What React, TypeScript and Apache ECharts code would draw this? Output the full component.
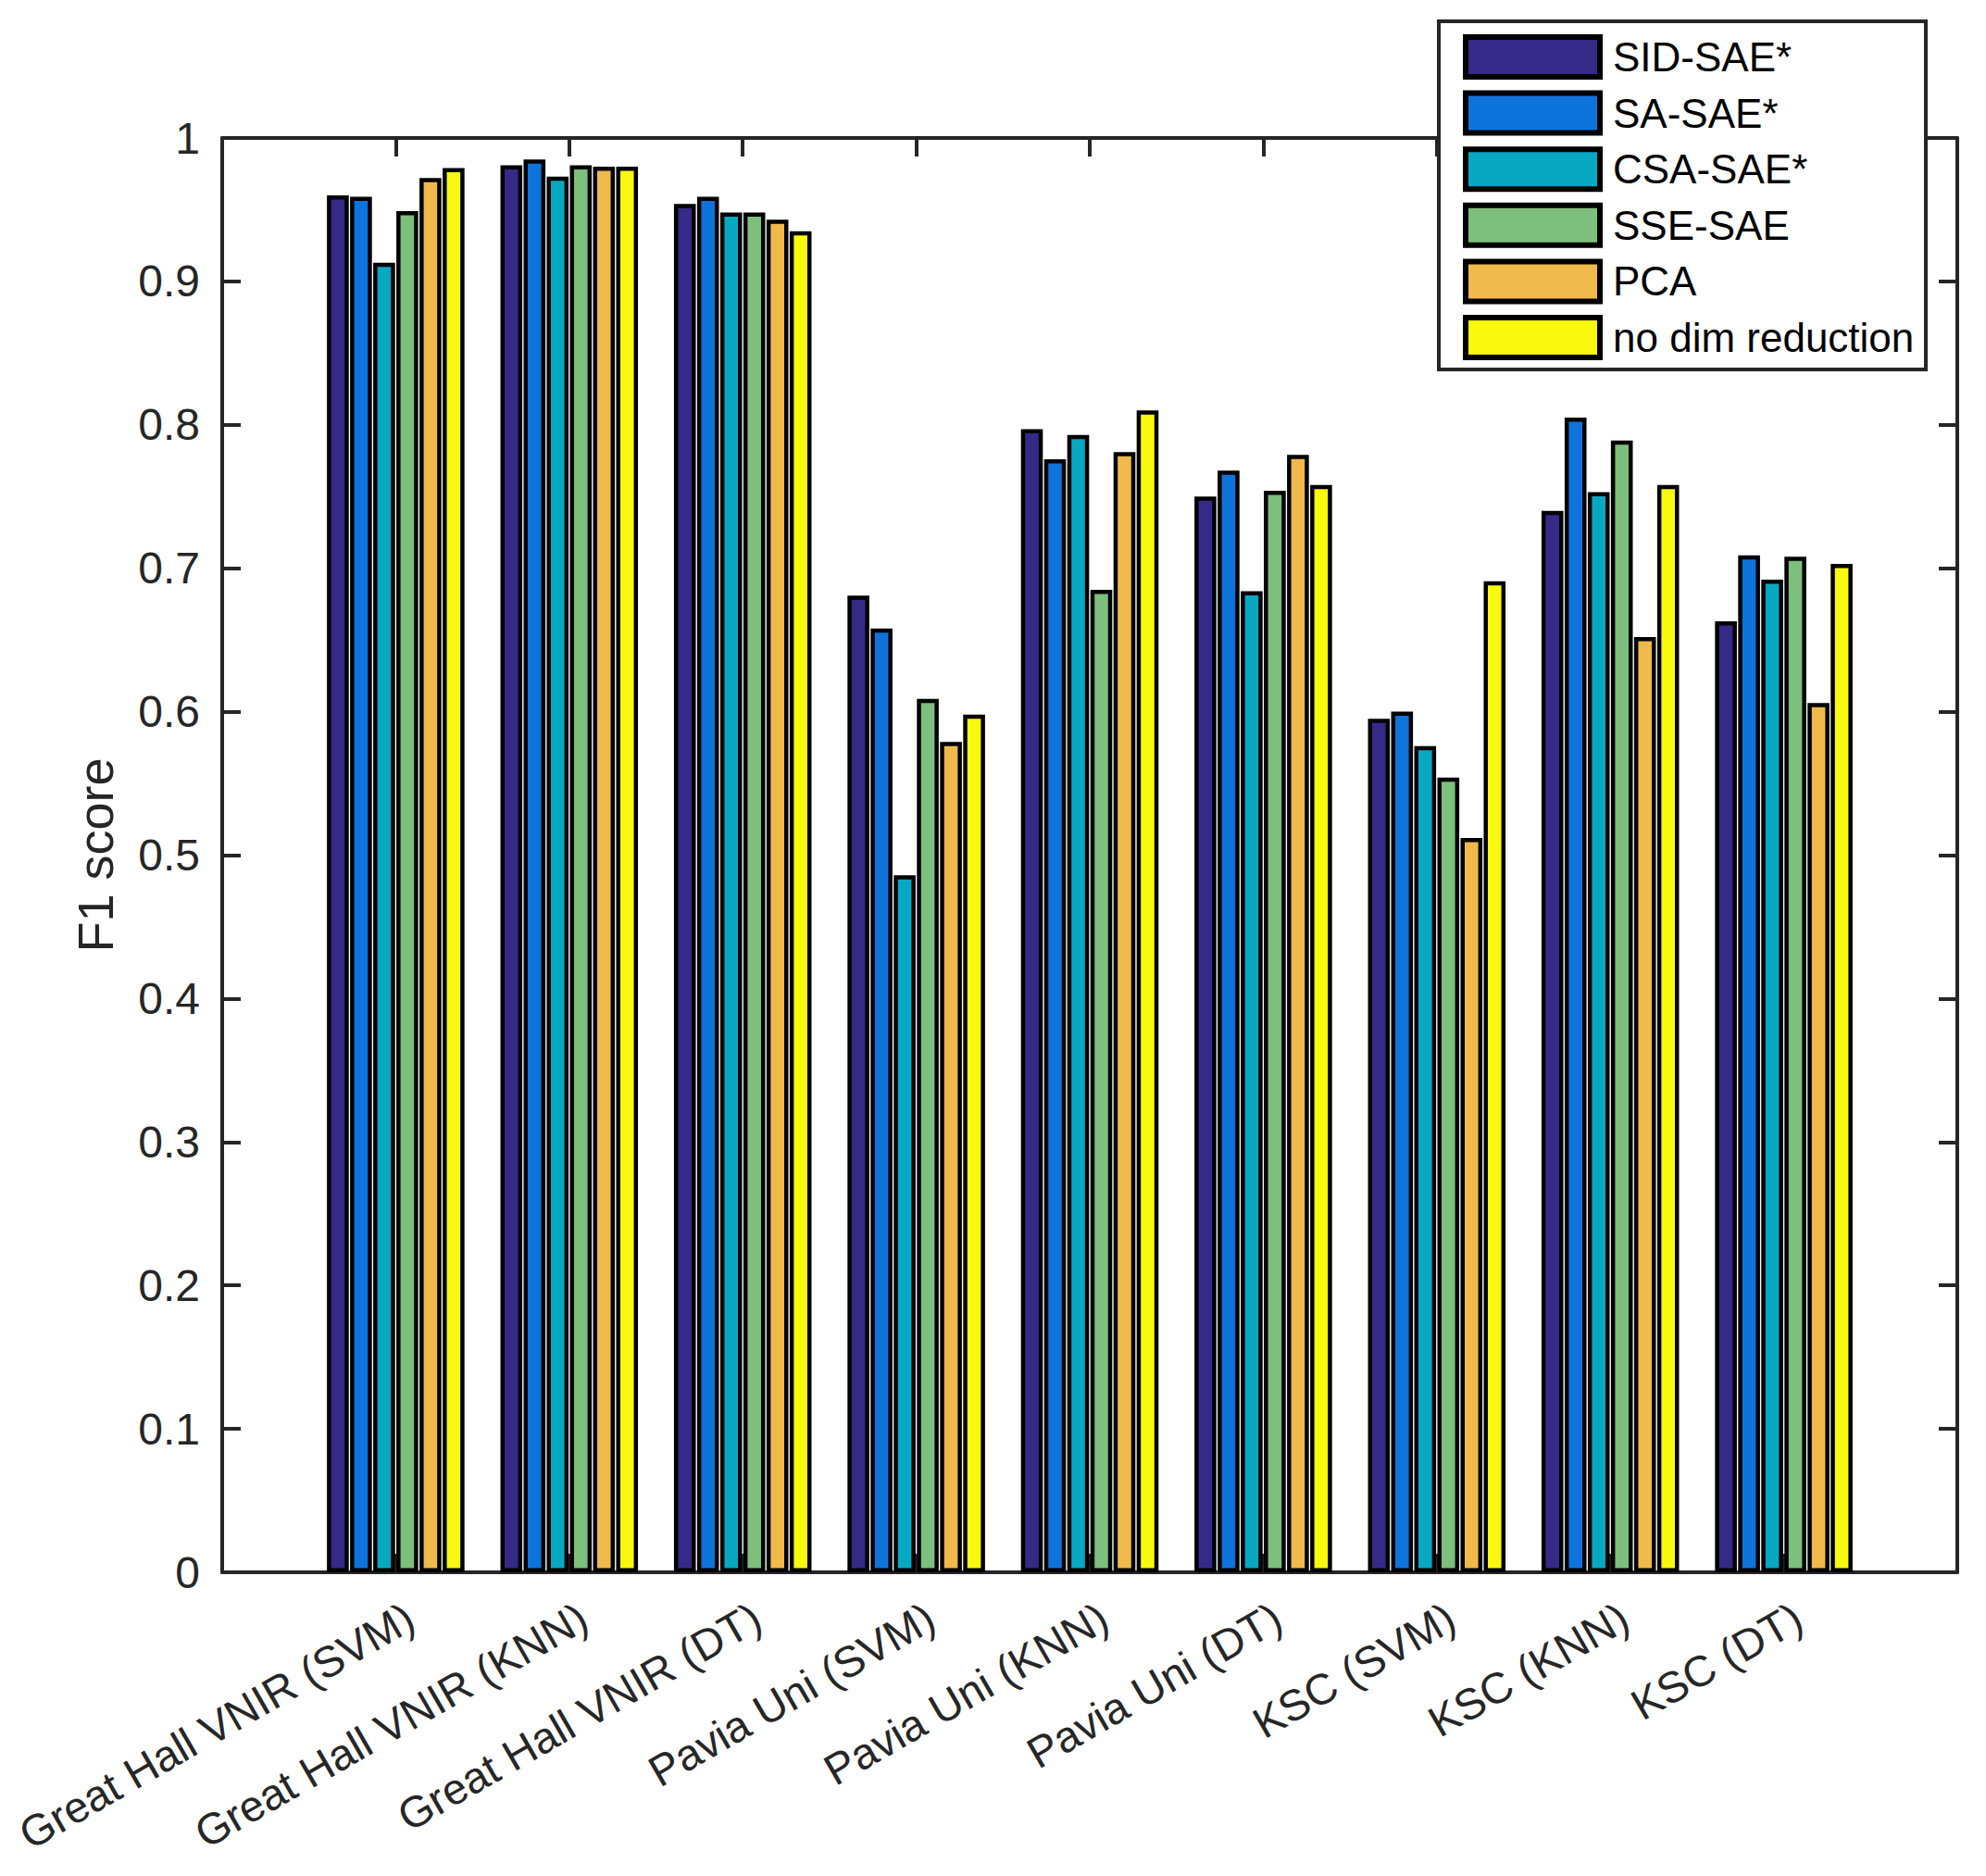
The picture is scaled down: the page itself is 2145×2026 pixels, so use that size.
import { useEffect, useRef } from "react";
import * as echarts from "echarts";

const categories = [
  "Great Hall VNIR (SVM)",
  "Great Hall VNIR (KNN)",
  "Great Hall VNIR (DT)",
  "Pavia Uni (SVM)",
  "Pavia Uni (KNN)",
  "Pavia Uni (DT)",
  "KSC (SVM)",
  "KSC (KNN)",
  "KSC (DT)",
];

const seriesNames = ["SID-SAE*", "SA-SAE*", "CSA-SAE*", "SSE-SAE", "PCA", "no dim reduction"];

const sidSae = [0.960, 0.981, 0.954, 0.681, 0.797, 0.750, 0.595, 0.740, 0.663];
const saSae = [0.959, 0.985, 0.959, 0.658, 0.776, 0.768, 0.600, 0.805, 0.709];
const csaSae = [0.913, 0.973, 0.948, 0.486, 0.793, 0.684, 0.576, 0.753, 0.692];
const sseSae = [0.949, 0.981, 0.948, 0.609, 0.685, 0.754, 0.554, 0.789, 0.708];
const pca = [0.972, 0.980, 0.943, 0.579, 0.781, 0.779, 0.512, 0.652, 0.606];
const noDimReduction = [0.979, 0.980, 0.935, 0.598, 0.810, 0.758, 0.691, 0.758, 0.703];

const seriesValues = [sidSae, saSae, csaSae, sseSae, pca, noDimReduction];
const colors = ["#352a87", "#0f73dc", "#08a8c3", "#7dbf7c", "#f0b94b", "#f8f90f"];

const yTicks = [0, 0.1, 0.2, 0.3, 0.4, 0.5, 0.6, 0.7, 0.8, 0.9, 1];

const FONT = "'Liberation Sans', Arial, Helvetica, sans-serif";
const AXIS_COLOR = "#262626";

export default function App() {
  const ref = useRef<HTMLDivElement>(null);

  useEffect(() => {
    document.body.style.margin = "0";
    document.body.style.overflow = "hidden";
    if (!ref.current) return;
    const chart = echarts.init(ref.current, undefined, { renderer: "svg" });

    const axisCommon = {
      axisLine: { show: true, onZero: false, lineStyle: { color: AXIS_COLOR, width: 4 } },
      axisTick: { show: true, inside: true, length: 20, lineStyle: { color: AXIS_COLOR, width: 4 } },
      splitLine: { show: false },
    };

    const option: any = {
      animation: false,
      backgroundColor: "#ffffff",
      textStyle: { fontFamily: FONT },
      grid: { left: 240, top: 149, right: 31, bottom: 328, containLabel: false },
      xAxis: [
        {
          type: "value",
          position: "bottom",
          min: 0,
          max: 10,
          interval: 1,
          ...axisCommon,
          axisLabel: {
            show: true,
            rotate: 30,
            margin: 54,
            fontSize: 47,
            fontFamily: FONT,
            color: AXIS_COLOR,
            padding: [0, -18, 0, 0],
            formatter: (v: number) => {
              const i = Math.round(v);
              return i >= 1 && i <= categories.length ? categories[i - 1] : "";
            },
          },
        },
        {
          type: "value",
          position: "top",
          min: 0,
          max: 10,
          interval: 1,
          ...axisCommon,
          axisLabel: { show: false },
        },
      ],
      yAxis: [
        {
          type: "value",
          position: "left",
          min: 0,
          max: 1,
          interval: 0.1,
          ...axisCommon,
          name: "F1 score",
          nameLocation: "middle",
          nameGap: 110,
          nameTextStyle: { fontSize: 54, color: AXIS_COLOR, fontFamily: FONT },
          axisLabel: {
            show: true,
            margin: 24,
            fontSize: 48,
            fontFamily: FONT,
            color: AXIS_COLOR,
            formatter: (v: number) => {
              const t = yTicks.find((y) => Math.abs(y - v) < 1e-6);
              return t === undefined ? "" : String(t);
            },
          },
        },
        {
          type: "value",
          position: "right",
          min: 0,
          max: 1,
          interval: 0.1,
          ...axisCommon,
          axisLabel: { show: false },
        },
      ],
      legend: {
        orient: "vertical",
        left: 1580,
        top: 37,
        padding: 0,
        itemWidth: 145,
        itemHeight: 43,
        itemGap: 11.6,
        icon: "rect",
        itemStyle: { borderColor: "#000000", borderWidth: 6 },
        textStyle: { fontSize: 44, color: "#000000", fontFamily: FONT, lineHeight: 43, padding: [0, 0, 0, 9] },
        data: seriesNames,
      },
      graphic: [
        {
          type: "rect",
          z: 3,
          shape: { x: 1554, y: 23, width: 526, height: 376 },
          style: { fill: "#ffffff", stroke: AXIS_COLOR, lineWidth: 4 },
        },
      ],
      series: seriesNames.map((name, si) => ({
        name,
        type: "bar",
        xAxisIndex: 0,
        yAxisIndex: 0,
        barWidth: 23.6,
        barGap: "5.9%",
        itemStyle: { color: colors[si], borderColor: "#000000", borderWidth: 4.5 },
        data: categories.map((_, ci) => [ci + 1, seriesValues[si][ci]]),
      })),
    };

    chart.setOption(option);
    return () => chart.dispose();
  }, []);

  return <div ref={ref} style={{ width: 2145, height: 2026 }} />;
}
